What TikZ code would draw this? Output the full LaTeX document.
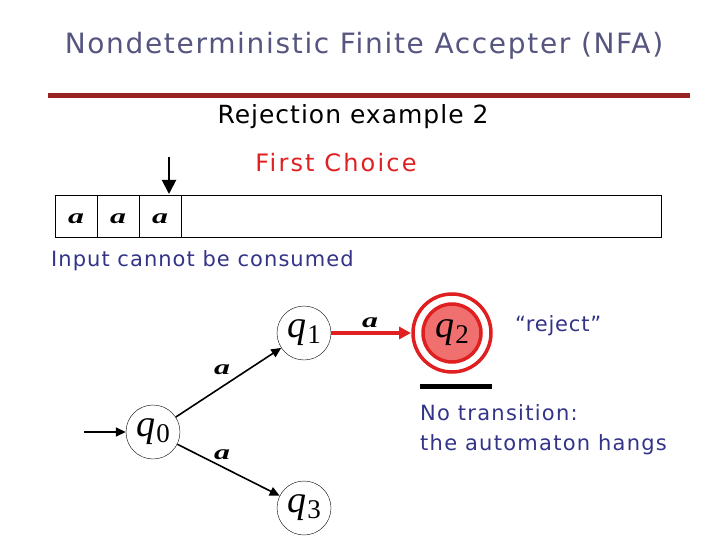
\documentclass[tikz,border=0pt]{standalone}
\usepackage{fontspec}
\usepackage{graphicx}
\setmainfont{DejaVu Sans}
\newfontfamily\tms{Liberation Serif}
\usetikzlibrary{arrows.meta}
\definecolor{titlecol}{HTML}{555580}
\definecolor{txtblue}{HTML}{333388}
\definecolor{rulered}{HTML}{992222}
\definecolor{stred}{HTML}{E02020}
\definecolor{stfill}{HTML}{F07070}
\newcommand{\ls}[1]{\addfontfeature{LetterSpace=#1}}
\newcommand{\stl}[1]{{\tms\itshape q}\kern1pt\raisebox{-6pt}{\fontsize{27}{27}\selectfont\tms #1}}
\newcommand{\syma}{\scalebox{1.45}[0.95]{a}}
\tikzset{
  state/.style={circle,draw=black,thin,minimum size=54pt,inner sep=0pt,font=\fontsize{38}{38}\selectfont},
  trans/.style={-{Triangle[length=10pt,width=9pt]},line width=1.6pt},
  sym/.style={font=\fontsize{22}{22}\selectfont\tms\bfseries\itshape,inner sep=0pt},
  bluetxt/.style={text=txtblue,font=\fontsize{21}{30}\selectfont\ls{5},inner sep=0pt},
}
\begin{document}
\begin{tikzpicture}[x=1pt,y=-1pt]
\useasboundingbox (0,0) rectangle (720,540);
% title
\node[text=titlecol,font=\fontsize{28}{30}\selectfont\ls{6},inner sep=0pt] (title) at (364,46) {Nondeterministic Finite Accepter (NFA)};
\draw[rulered,line width=5pt] (48,96) coordinate (r1) -- (690,96) coordinate (r2);
\node[font=\fontsize{25}{28}\selectfont\ls{4},inner sep=0pt] (sub) at (353,117) {Rejection example 2};
\node[text=stred,font=\fontsize{24}{28}\selectfont\ls{9},inner sep=0pt] (choice) at (336,163) {First Choice};
% tape
\draw[thin] (55,195) rectangle (661,237);
\draw[thin] (97,195) -- (97,237) (139,195) -- (139,237) (181,195) -- (181,237);
\node[sym] (t1) at (76,219) {\syma};
\node[sym] (t2) at (118,219) {\syma};
\node[sym] (t3) at (160,219) {\syma};
\coordinate (head) at (169,157);
\coordinate (headtip) at (169,194);
\draw[-{Triangle[length=14pt,width=14pt]},line width=2pt] (head) -- (headtip);
\node[bluetxt,anchor=west] (input) at (51,261) {Input cannot be consumed};
% states
\node[state] (q0) at (153,432) {\stl{0}};
\node[state] (q1) at (304,333) {\stl{1}};
\node[state] (q3) at (304,508) {\stl{3}};
\node[circle,draw=stred,line width=3.5pt,fill=stfill,minimum size=58pt,inner sep=0pt,font=\fontsize{38}{38}\selectfont] (q2) at (452,333) {\stl{2}};
\draw[stred,line width=3.5pt] (q2) circle[radius=39pt];
\coordinate (q2outer) at (411,333);
\draw[line width=5pt] (420,386) coordinate (b1) -- (492,386) coordinate (b2);
% transitions
\coordinate (start) at (84,432);
\draw[trans] (start) -- (q0);
\draw[trans] (q0) -- (q1);
\node[sym] (l01) at (222,370) {\syma};
\draw[trans] (q0) -- (q3);
\node[sym] (l03) at (222,455) {\syma};
\draw[-{Triangle[length=12pt,width=12pt]},line width=3.5pt,stred] (q1) -- (q2outer);
\node[sym] (l12) at (370,323) {\syma};
% texts
\node[bluetxt,anchor=west,font=\fontsize{21}{30}\selectfont\ls{4}] (rej) at (515,326) {“reject”};
\node[bluetxt,anchor=north west,align=left,font=\fontsize{21}{30}\selectfont\ls{6}] (nt) at (420,404) {No transition:\\the automaton hangs};
\end{tikzpicture}
\end{document}
